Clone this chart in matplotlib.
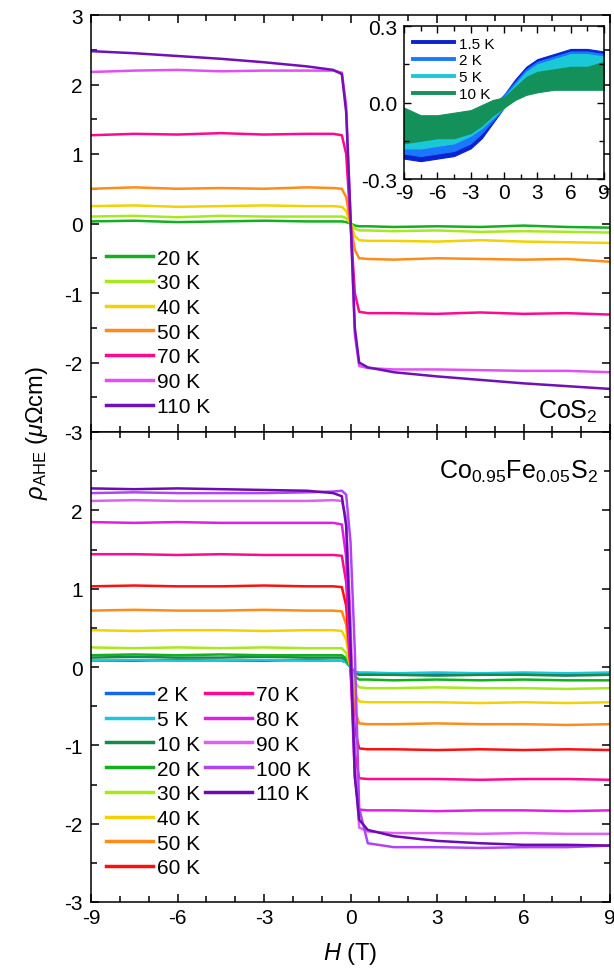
import numpy as np
import matplotlib
matplotlib.use("Agg")
import matplotlib.pyplot as plt
from matplotlib.ticker import MultipleLocator, FormatStrFormatter

plt.rcParams['font.family'] = ['Liberation Sans', 'DejaVu Sans']
plt.rcParams['mathtext.fontset'] = 'custom'
plt.rcParams['mathtext.rm'] = 'Liberation Sans'
plt.rcParams['mathtext.it'] = 'Liberation Sans:italic'
plt.rcParams['axes.unicode_minus'] = False

# ---- field grid shared by the main panels (T)
H = [-9, -7.5, -6, -4.5, -3, -1.5, -0.6, -0.3, -0.15, 0, 0.15, 0.3, 0.6, 1.5, 3, 4.5, 6, 7.5, 9]

# ---- CoS2 (top panel), rho_AHE in uOhm cm
top_T = ['20 K', '30 K', '40 K', '50 K', '70 K', '90 K', '110 K']
top_col = ['#12b01e', '#a8e81c', '#f2d200', '#ff8c1a', '#ff0a8c', '#e050f2', '#7010b8']
top_rho = [
    [0.03, 0.04, 0.02, 0.03, 0.04, 0.03, 0.03, 0.03, 0.02, 0.0, -0.03, -0.04, -0.04, -0.05, -0.04, -0.05, -0.03, -0.05, -0.06],
    [0.10, 0.11, 0.09, 0.11, 0.10, 0.10, 0.10, 0.10, 0.08, 0.0, -0.07, -0.10, -0.10, -0.11, -0.10, -0.12, -0.11, -0.12, -0.13],
    [0.25, 0.26, 0.24, 0.25, 0.26, 0.25, 0.25, 0.24, 0.18, 0.0, -0.18, -0.24, -0.25, -0.25, -0.26, -0.24, -0.26, -0.27, -0.28],
    [0.50, 0.52, 0.50, 0.51, 0.50, 0.52, 0.51, 0.50, 0.38, 0.0, -0.38, -0.50, -0.51, -0.52, -0.50, -0.51, -0.52, -0.51, -0.55],
    [1.27, 1.29, 1.28, 1.30, 1.28, 1.29, 1.29, 1.27, 1.00, 0.0, -1.00, -1.27, -1.29, -1.29, -1.30, -1.28, -1.30, -1.29, -1.31],
    [2.18, 2.20, 2.21, 2.19, 2.20, 2.20, 2.20, 2.17, 1.70, 0.1, -1.60, -2.05, -2.08, -2.10, -2.10, -2.11, -2.12, -2.12, -2.14],
    [2.48, 2.45, 2.41, 2.37, 2.32, 2.26, 2.21, 2.15, 1.60, 0.1, -1.50, -2.00, -2.07, -2.14, -2.20, -2.25, -2.30, -2.34, -2.38],
]

# ---- Co0.95Fe0.05S2 (bottom panel)
bot_T = ['2 K', '5 K', '10 K', '20 K', '30 K', '40 K', '50 K', '60 K',
         '70 K', '80 K', '90 K', '100 K', '110 K']
bot_col = ['#1466e8', '#1cc6dc', '#16894c', '#12b01e', '#a8e81c', '#f2d200', '#ff8c1a', '#ff1010',
           '#ff0a8c', '#e01ee6', '#e060f4', '#b044f2', '#6a0cb0']
bot_rho = [
    [0.08, 0.08, 0.09, 0.08, 0.08, 0.09, 0.08, 0.08, 0.06, 0.0, -0.06, -0.08, -0.08, -0.08, -0.09, -0.08, -0.08, -0.09, -0.08],
    [0.08, 0.09, 0.08, 0.08, 0.09, 0.08, 0.08, 0.08, 0.06, 0.0, -0.06, -0.07, -0.07, -0.08, -0.07, -0.08, -0.07, -0.08, -0.07],
    [0.12, 0.13, 0.12, 0.12, 0.13, 0.12, 0.12, 0.12, 0.09, 0.0, -0.08, -0.10, -0.10, -0.10, -0.11, -0.10, -0.10, -0.11, -0.10],
    [0.15, 0.16, 0.15, 0.16, 0.15, 0.15, 0.15, 0.15, 0.11, 0.0, -0.12, -0.16, -0.16, -0.17, -0.16, -0.17, -0.16, -0.17, -0.17],
    [0.25, 0.24, 0.25, 0.24, 0.25, 0.24, 0.24, 0.24, 0.18, 0.0, -0.20, -0.26, -0.27, -0.27, -0.26, -0.27, -0.27, -0.28, -0.27],
    [0.47, 0.46, 0.47, 0.47, 0.46, 0.47, 0.47, 0.46, 0.35, 0.0, -0.34, -0.44, -0.45, -0.45, -0.45, -0.46, -0.45, -0.46, -0.45],
    [0.72, 0.73, 0.72, 0.72, 0.73, 0.72, 0.72, 0.71, 0.54, 0.0, -0.55, -0.72, -0.73, -0.73, -0.72, -0.73, -0.73, -0.74, -0.73],
    [1.03, 1.04, 1.03, 1.03, 1.04, 1.03, 1.03, 1.02, 0.78, 0.0, -0.80, -1.04, -1.05, -1.05, -1.06, -1.05, -1.06, -1.05, -1.06],
    [1.44, 1.44, 1.43, 1.44, 1.43, 1.43, 1.43, 1.42, 1.08, 0.0, -1.10, -1.42, -1.43, -1.43, -1.43, -1.44, -1.43, -1.43, -1.44],
    [1.85, 1.84, 1.85, 1.84, 1.84, 1.84, 1.84, 1.82, 1.40, 0.0, -1.40, -1.82, -1.83, -1.83, -1.84, -1.83, -1.83, -1.84, -1.83],
    [2.12, 2.13, 2.12, 2.12, 2.12, 2.12, 2.13, 2.12, 1.90, 0.6, -1.20, -2.05, -2.10, -2.12, -2.12, -2.13, -2.12, -2.13, -2.13],
    [2.22, 2.23, 2.22, 2.22, 2.22, 2.23, 2.24, 2.25, 2.20, 1.6, 0.20, -1.80, -2.25, -2.30, -2.30, -2.31, -2.30, -2.30, -2.28],
    [2.28, 2.27, 2.28, 2.27, 2.26, 2.25, 2.22, 2.18, 1.80, 0.3, -1.40, -1.95, -2.08, -2.16, -2.22, -2.25, -2.27, -2.27, -2.28],
]

# ---- inset: low-temperature CoS2 (noisy bands, lower/upper envelopes)
H_in = [-9, -7.5, -6, -4.5, -3, -2, -1, 0, 1, 2, 3, 4.5, 6, 7.5, 9]
in_T = ['1.5 K', '2 K', '5 K', '10 K']
in_col = ['#0a22d0', '#1a78ff', '#1ac8d8', '#14915a']
in_lo = [
    [-0.22, -0.23, -0.22, -0.21, -0.18, -0.14, -0.08, -0.02, 0.04, 0.08, 0.10, 0.11, 0.12, 0.11, 0.10],
    [-0.20, -0.21, -0.20, -0.19, -0.16, -0.12, -0.07, -0.02, 0.03, 0.07, 0.09, 0.10, 0.11, 0.10, 0.09],
    [-0.18, -0.18, -0.17, -0.16, -0.13, -0.10, -0.06, -0.02, 0.03, 0.06, 0.08, 0.10, 0.10, 0.10, 0.09],
    [-0.16, -0.15, -0.14, -0.14, -0.12, -0.09, -0.05, -0.02, 0.01, 0.03, 0.04, 0.05, 0.05, 0.05, 0.05],
]
in_hi = [
    [-0.12, -0.13, -0.13, -0.12, -0.10, -0.06, -0.02, 0.03, 0.09, 0.14, 0.17, 0.19, 0.21, 0.21, 0.20],
    [-0.11, -0.12, -0.12, -0.11, -0.09, -0.05, -0.01, 0.03, 0.08, 0.13, 0.16, 0.18, 0.20, 0.20, 0.19],
    [-0.09, -0.10, -0.10, -0.09, -0.07, -0.04, -0.01, 0.02, 0.07, 0.12, 0.15, 0.17, 0.19, 0.19, 0.18],
    [-0.02, -0.05, -0.05, -0.04, -0.03, -0.01, 0.01, 0.02, 0.06, 0.10, 0.12, 0.13, 0.14, 0.14, 0.16],
]

fs = 15
fig = plt.figure(figsize=(6.14, 9.78), dpi=100)
L, R = 91 / 614, 610 / 614
ax1 = fig.add_axes([L, 1 - 433 / 978, R - L, (433 - 16) / 978])
ax2 = fig.add_axes([L, 1 - 903 / 978, R - L, (903 - 433) / 978])


def style(ax, xl=True):
    ax.set_xlim(-9, 9)
    ax.set_ylim(-3, 3)
    ax.xaxis.set_major_locator(MultipleLocator(3))
    ax.xaxis.set_minor_locator(MultipleLocator(1))
    ax.yaxis.set_major_locator(MultipleLocator(1))
    ax.yaxis.set_minor_locator(MultipleLocator(0.5))
    ax.tick_params(which='both', direction='in', top=True, right=True, width=1.1, labelsize=fs)
    ax.tick_params(which='major', length=6)
    ax.tick_params(which='minor', length=4)
    ax.tick_params(axis='y', pad=6)
    ax.tick_params(axis='x', pad=4, labelbottom=xl)
    for s in ax.spines.values():
        s.set_linewidth(1.1)


legkw = dict(loc='upper left', frameon=False, fontsize=fs, handlelength=2.25,
             handletextpad=0.2, labelspacing=0.275, borderpad=0, borderaxespad=0)

for T, c, y in zip(top_T, top_col, top_rho):
    ax1.plot(H, y, color=c, lw=1.8, label=T)
style(ax1, xl=False)
leg = ax1.legend(bbox_to_anchor=(0.029, 0.44), **legkw)
for h in leg.legend_handles:
    h.set_linewidth(2.5)
ax1.text(0.977, 0.035, 'CoS$_2$', transform=ax1.transAxes, ha='right', va='baseline', fontsize=18)

lines = []
for T, c, y in zip(bot_T, bot_col, bot_rho):
    ln, = ax2.plot(H, y, color=c, lw=1.8, label=T)
    lines.append(ln)
style(ax2)
ax2.set_yticks([-3, -2, -1, 0, 1, 2, 3])
ax2.set_yticklabels(['-3', '-2', '-1', '0', '1', '2', ''])
leg1 = ax2.legend(handles=lines[:8], bbox_to_anchor=(0.029, 0.461), **legkw)
ax2.add_artist(leg1)
leg2 = ax2.legend(handles=lines[8:], bbox_to_anchor=(0.22, 0.461), **legkw)
for lg in (leg1, leg2):
    for h in lg.legend_handles:
        h.set_linewidth(2.5)
ax2.text(0.977, 0.902, 'Co$_{0.95}$Fe$_{0.05}$S$_2$', transform=ax2.transAxes,
         ha='right', va='baseline', fontsize=18)
ax2.set_xlabel('$H$ (T)', fontsize=17, labelpad=10)

fig.text(0.06, 1 - 433 / 978, r'$\rho_{\rm AHE}$ ($\mu\Omega$cm)', rotation=90,
         ha='center', va='center', fontsize=17)

# ---- inset
axi = fig.add_axes([404 / 614, 1 - 180 / 978, 200 / 614, 153 / 978])
hs = []
for T, c, lo, hi in zip(in_T, in_col, in_lo, in_hi):
    axi.fill_between(H_in, lo, hi, color=c, lw=0.8, edgecolor=c)
    hs.append(plt.Line2D([], [], color=c, lw=2.8, label=T))
axi.set_xlim(-9, 9)
axi.set_ylim(-0.3, 0.3)
axi.xaxis.set_major_locator(MultipleLocator(3))
axi.xaxis.set_minor_locator(MultipleLocator(1.5))
axi.yaxis.set_major_locator(MultipleLocator(0.3))
axi.yaxis.set_minor_locator(MultipleLocator(0.15))
axi.yaxis.set_major_formatter(FormatStrFormatter('%.1f'))
axi.tick_params(which='both', direction='in', top=True, right=True, width=1.0, labelsize=fs)
axi.tick_params(which='major', length=5)
axi.tick_params(which='minor', length=3.5)
axi.tick_params(axis='y', pad=5)
axi.tick_params(axis='x', pad=3)
for s in axi.spines.values():
    s.set_linewidth(1.1)
axi.legend(handles=hs, loc='upper left', bbox_to_anchor=(0.045, 0.93), frameon=False, fontsize=11,
           handlelength=2.7, handletextpad=0.3, labelspacing=0.18, borderpad=0, borderaxespad=0)

fig.savefig('out.png', dpi=100)
